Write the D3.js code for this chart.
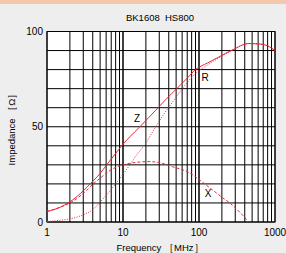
<!DOCTYPE html>
<html><head><meta charset="utf-8">
<script src="https://cdn.jsdelivr.net/npm/d3@7"></script>
<style>
html,body{margin:0;padding:0;background:#eeeeee;overflow:hidden;}
svg{display:block;font-family:"Liberation Sans",Arial,sans-serif;}
</style></head><body>
<script>
const title = "BK1608\u00a0\u00a0HS800";
const xTicks = [1, 10, 100, 1000];
const yTicks = [0, 50, 100];
// Z (solid)
const zFreq = [1, 1.5, 1.9, 2.5, 3.7, 5, 6.1, 7.5, 9.6, 12.5, 16.7, 22, 29, 38, 51, 70, 90, 130, 180, 280, 450, 650, 800, 1000];
const zVal  = [5.5, 7.8, 10, 13.5, 20, 25.5, 30, 34.5, 40, 45, 50, 55, 60, 65, 70, 75.5, 80, 83.5, 86.5, 90.5, 93.7, 93.4, 92.5, 90];
// R (dotted)
const rFreq = [1, 1.4, 2.2, 3, 4, 5, 6, 8, 10, 12.3, 15, 20, 26, 35, 44, 63, 93, 130, 180, 280, 450, 650, 800, 1000];
const rVal  = [0.2, 0.8, 2, 3.8, 6.5, 10.5, 14, 20, 25, 30, 35, 41.5, 49, 57, 62.5, 71, 78.5, 82.5, 86, 90.3, 93.6, 93.3, 92.4, 90];
// X (dashed)
const xFreq = [1, 1.5, 2, 3, 4, 5, 7, 10, 15, 22, 30, 45, 76, 103, 150, 200, 256, 350, 423, 440];
const xVal  = [5.5, 7.8, 10, 15, 19.8, 23, 27.5, 30, 31.3, 31.7, 31.2, 29, 25.7, 21.9, 16.9, 13, 9.9, 4.8, 1.1, 0];

const W = 286, H = 253;
const L = 47, R = 275, T = 31.5, B = 222;
const svg = d3.select("body").append("svg").attr("width", W).attr("height", H);
svg.append("rect").attr("x",0).attr("y",0).attr("width",W).attr("height",4).attr("fill","#f6c8ab");

const x = d3.scaleLog().domain([1, 1000]).range([L, R]);
const y = d3.scaleLinear().domain([0, 100]).range([B, T]);

svg.append("rect").attr("x",L).attr("y",T).attr("width",R-L).attr("height",B-T).attr("fill","#fff");

const g = svg.append("g");
const vGrid = [];
for (let d = 1; d < 1000; d *= 10) for (let k = 1; k <= 10; k++) vGrid.push(d*k);
g.selectAll("line.v").data(vGrid).enter().append("line")
  .attr("x1", d=>x(d)).attr("x2", d=>x(d)).attr("y1", T).attr("y2", B)
  .attr("stroke","#000").attr("stroke-width",1);
g.selectAll("line.h").data(d3.range(0,101,10)).enter().append("line")
  .attr("x1", L).attr("x2", R).attr("y1", d=>y(d)).attr("y2", d=>y(d))
  .attr("stroke","#000").attr("stroke-width",1);
svg.append("rect").attr("x",L).attr("y",T).attr("width",R-L).attr("height",B-T)
  .attr("fill","none").attr("stroke","#000").attr("stroke-width",1);

const line = d3.line().x(d=>x(d[0])).y(d=>y(d[1])).curve(d3.curveMonotoneX);
const red = "#e8283a";
svg.append("clipPath").attr("id","c").append("rect").attr("x",L).attr("y",T-5).attr("width",R-L).attr("height",B-T+5);
function draw(fr, vals, dash){
  svg.append("path").attr("d", line(fr.map((f,i)=>[f, vals[i]])))
    .attr("fill","none").attr("stroke",red).attr("stroke-width",1)
    .attr("stroke-dasharray", dash).attr("clip-path","url(#c)");
}
draw(xFreq, xVal, "3,2");
draw(rFreq, rVal, "1,1.5");
draw(zFreq, zVal, null);

svg.append("text").attr("x",137).attr("y",122).attr("text-anchor","middle").attr("font-size",10).text("Z");
svg.append("text").attr("x",205).attr("y",81).attr("text-anchor","middle").attr("font-size",10).text("R");
svg.append("text").attr("x",208).attr("y",197).attr("text-anchor","middle").attr("font-size",10).text("X");

svg.append("text").attr("x",160).attr("y",21).attr("text-anchor","middle").attr("font-size",9.5).text(title);

svg.selectAll("text.yt").data(yTicks).enter().append("text")
  .attr("x", 43).attr("y", d=>y(d)+ (d===0?4:3.5)).attr("text-anchor","end").attr("font-size",10)
  .text(d=>d);
svg.selectAll("text.xt").data(xTicks).enter().append("text")
  .attr("x", d=>x(d)).attr("y", 236).attr("text-anchor","middle").attr("font-size",10)
  .text(d=>d);

svg.append("text").attr("transform","translate(15,127) rotate(-90)").attr("text-anchor","middle")
  .attr("font-size",9.5).text("Impedance ［Ω］");
svg.append("text").attr("x",160).attr("y",251).attr("text-anchor","middle").attr("font-size",9.5)
  .text("Frequency ［MHz］");
</script>
</body></html>
